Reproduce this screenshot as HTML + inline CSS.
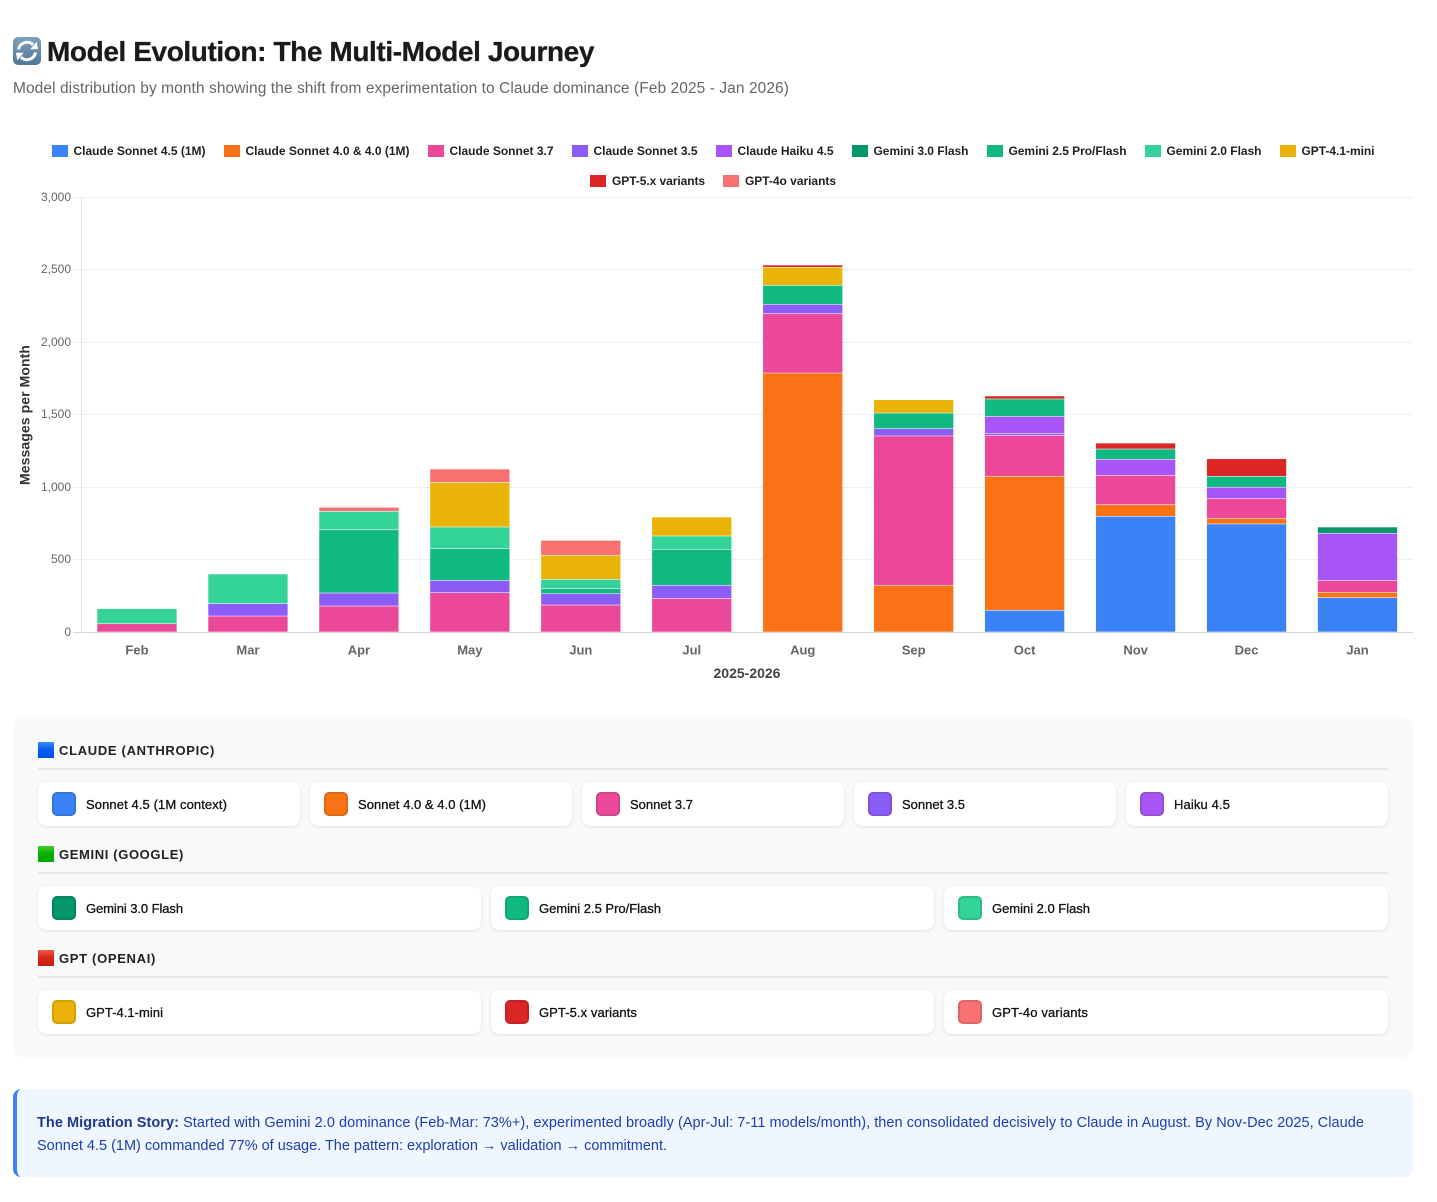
<!DOCTYPE html>
<html lang="en">
<head>
<meta charset="utf-8">
<title>Model Evolution: The Multi-Model Journey</title>
<style>
*{box-sizing:border-box}
html,body{margin:0;padding:0;background:#fff}
body{position:relative;width:1437px;height:1202px;overflow:hidden;font-family:"Liberation Sans",sans-serif;color:#1a1a1a}
.fit{display:inline-block;white-space:nowrap}
#title{position:absolute;left:47px;top:35px;font-size:28px;line-height:34px;font-weight:700;margin:0;color:#1a1a1a;-webkit-text-stroke:.3px #1a1a1a}
#title-icon{position:absolute;left:13px;top:37px}
#subtitle{position:absolute;left:13px;top:80px;font-size:15.5px;line-height:18px;color:#666;margin:0}
#chart{position:absolute;left:0;top:0}
.legend-row{position:absolute;left:13px;width:1400px;display:flex;justify-content:center;gap:18px;height:18px;align-items:center}
.legend-item{display:flex;align-items:center;gap:6px;font-size:12px;font-weight:700;color:#222;line-height:18px}
.legend-swatch{width:16px;height:12px;display:block}
#panel{position:absolute;left:13px;top:717px;width:1400px;height:341px;background:#f8f9fa;border-radius:12px}
.group-head{position:absolute;left:25px;width:1350px;height:28px;border-bottom:2px solid #e5e7eb}
.group-icon{position:absolute;left:0;top:0;width:16px;height:16px;display:block}
.group-title{position:absolute;left:21px;top:1px;font-size:13px;line-height:16px;font-weight:700;color:#222}
.cards{position:absolute;left:25px;width:1350px;height:44px;display:flex;gap:10px}
.card{flex:1 1 0;background:#fff;border-radius:8px;box-shadow:0 1px 3px rgba(0,0,0,.1);display:flex;align-items:center;padding-left:14px;gap:10px;font-size:13px;color:#111;-webkit-text-stroke:.3px #111}
.cards.three .card{flex:0 0 443px}
.cards.three .card:last-child{flex:0 0 444px}
.chip{width:24px;height:24px;border-radius:5px;border:2px solid rgba(0,0,0,.1);display:block;flex:none}
#callout{position:absolute;left:13px;top:1089px;width:1400px;height:88px;background:#eff6ff;border-left:4px solid #3b82f6;border-radius:8px;color:#1e40af;font-size:14.5px;line-height:23px}
#callout .line{position:absolute;left:20px}
#callout b{color:#1e3a8a}
</style>
</head>
<body>

<svg id="title-icon" width="28" height="28" viewBox="0 0 28 28">
  <defs><linearGradient id="ig" x1="0" y1="0" x2="0" y2="1"><stop offset="0" stop-color="#7f9fbd"/><stop offset="1" stop-color="#4f7899"/></linearGradient></defs>
  <rect x="0" y="0" width="28" height="28" rx="5" fill="url(#ig)"/>
  <path d="M5.5 12.5 A8.6 8.6 0 0 1 20 7.8" fill="none" stroke="#fff" stroke-width="3"/>
  <path d="M17.2 12.2 L25 12.2 L23.6 4.6 Z" fill="#fff"/>
  <path d="M22.5 15.5 A8.6 8.6 0 0 1 8 20.2" fill="none" stroke="#fff" stroke-width="3"/>
  <path d="M10.8 15.8 L3 15.8 L4.4 23.4 Z" fill="#fff"/>
</svg>
<h1 id="title"><span class="fit" data-fit="547">Model Evolution: The Multi-Model Journey</span></h1>
<p id="subtitle"><span class="fit" data-fit="776">Model distribution by month showing the shift from experimentation to Claude dominance (Feb 2025 - Jan 2026)</span></p>

<svg id="chart" width="1437" height="700" viewBox="0 0 1437 700"></svg>

<div class="legend-row" style="top:142px">
  <div class="legend-item"><i class="legend-swatch" style="background:#3b82f6"></i><span class="fit" data-fit="132">Claude Sonnet 4.5 (1M)</span></div>
  <div class="legend-item"><i class="legend-swatch" style="background:#f97316"></i><span class="fit" data-fit="164">Claude Sonnet 4.0 &amp; 4.0 (1M)</span></div>
  <div class="legend-item"><i class="legend-swatch" style="background:#ec4899"></i><span class="fit" data-fit="104">Claude Sonnet 3.7</span></div>
  <div class="legend-item"><i class="legend-swatch" style="background:#8b5cf6"></i><span class="fit" data-fit="104">Claude Sonnet 3.5</span></div>
  <div class="legend-item"><i class="legend-swatch" style="background:#a855f7"></i><span class="fit" data-fit="96">Claude Haiku 4.5</span></div>
  <div class="legend-item"><i class="legend-swatch" style="background:#059669"></i><span class="fit" data-fit="95">Gemini 3.0 Flash</span></div>
  <div class="legend-item"><i class="legend-swatch" style="background:#10b981"></i><span class="fit" data-fit="118">Gemini 2.5 Pro/Flash</span></div>
  <div class="legend-item"><i class="legend-swatch" style="background:#34d399"></i><span class="fit" data-fit="95">Gemini 2.0 Flash</span></div>
  <div class="legend-item"><i class="legend-swatch" style="background:#eab308"></i><span class="fit" data-fit="73">GPT-4.1-mini</span></div>
</div>
<div class="legend-row" style="top:172px">
  <div class="legend-item"><i class="legend-swatch" style="background:#dc2626"></i><span class="fit" data-fit="93">GPT-5.x variants</span></div>
  <div class="legend-item"><i class="legend-swatch" style="background:#f87171"></i><span class="fit" data-fit="91">GPT-4o variants</span></div>
</div>

<section id="panel">
  <div class="group-head" style="top:25px">
    <i class="group-icon" style="background:linear-gradient(#3d8cf5,#0a5cf2 45%,#0050ee)"></i>
    <span class="group-title fit" data-fit="156">CLAUDE (ANTHROPIC)</span>
  </div>
  <div class="cards" style="top:65px">
    <div class="card"><i class="chip" style="background:#3b82f6"></i><span class="fit" data-fit="141">Sonnet 4.5 (1M context)</span></div>
    <div class="card"><i class="chip" style="background:#f97316"></i><span class="fit" data-fit="128">Sonnet 4.0 &amp; 4.0 (1M)</span></div>
    <div class="card"><i class="chip" style="background:#ec4899"></i><span class="fit" data-fit="63">Sonnet 3.7</span></div>
    <div class="card"><i class="chip" style="background:#8b5cf6"></i><span class="fit" data-fit="63">Sonnet 3.5</span></div>
    <div class="card"><i class="chip" style="background:#a855f7"></i><span class="fit" data-fit="56">Haiku 4.5</span></div>
  </div>
  <div class="group-head" style="top:129px">
    <i class="group-icon" style="background:linear-gradient(#45c935,#0cb000 45%,#00a800)"></i>
    <span class="group-title fit" data-fit="125">GEMINI (GOOGLE)</span>
  </div>
  <div class="cards three" style="top:169px">
    <div class="card"><i class="chip" style="background:#059669"></i><span class="fit" data-fit="97">Gemini 3.0 Flash</span></div>
    <div class="card"><i class="chip" style="background:#10b981"></i><span class="fit" data-fit="122">Gemini 2.5 Pro/Flash</span></div>
    <div class="card"><i class="chip" style="background:#34d399"></i><span class="fit" data-fit="98">Gemini 2.0 Flash</span></div>
  </div>
  <div class="group-head" style="top:233px">
    <i class="group-icon" style="background:linear-gradient(#ee5a48,#d8281a 45%,#cc1b0c)"></i>
    <span class="group-title fit" data-fit="97">GPT (OPENAI)</span>
  </div>
  <div class="cards three" style="top:273px">
    <div class="card"><i class="chip" style="background:#eab308"></i><span class="fit" data-fit="77">GPT-4.1-mini</span></div>
    <div class="card"><i class="chip" style="background:#dc2626"></i><span class="fit" data-fit="98">GPT-5.x variants</span></div>
    <div class="card"><i class="chip" style="background:#f87171"></i><span class="fit" data-fit="96">GPT-4o variants</span></div>
  </div>
</section>

<aside id="callout">
  <span class="line fit" style="top:23px" data-fit="1327"><b>The Migration Story:</b> Started with Gemini 2.0 dominance (Feb-Mar: 73%+), experimented broadly (Apr-Jul: 7-11 models/month), then consolidated decisively to Claude in August. By Nov-Dec 2025, Claude</span>
  <span class="line fit" style="top:46px" data-fit="630">Sonnet 4.5 (1M) commanded 77% of usage. The pattern: exploration → validation → commitment.</span>
</aside>

<script>
const months = ["Feb","Mar","Apr","May","Jun","Jul","Aug","Sep","Oct","Nov","Dec","Jan"];
const yTicks = [0,500,1000,1500,2000,2500,3000];
const seriesNames = ["sonnet-4-5","sonnet-4-0","sonnet-3-7","sonnet-3-5","haiku-4-5","gemini-3-0","gemini-2-5","gemini-2-0","gpt-4-1-mini","gpt-5-x","gpt-4o"];
const seriesColors = ["#3b82f6","#f97316","#ec4899","#8b5cf6","#a855f7","#059669","#10b981","#34d399","#eab308","#dc2626","#f87171"];
const sonnet45 = [0,0,0,0,0,0,0,0,150,798,745,237];
const sonnet40 = [0,0,0,0,0,0,1786,322,924,80,39,37];
const sonnet37 = [57,110,179,271,186,232,409,1030,282,203,135,82];
const sonnet35 = [0,85,90,85,78,90,65,50,14,0,0,0];
const haiku45 = [0,0,0,0,0,0,0,0,117,110,79,325];
const gemini30 = [0,0,0,0,0,0,0,0,0,0,0,43];
const gemini25 = [0,0,436,219,35,248,131,108,120,71,76,0];
const gemini20 = [104,205,127,149,64,92,0,0,0,0,0,0];
const gpt41mini = [0,0,0,308,166,131,124,92,0,0,0,0];
const gpt5x = [0,0,0,0,0,0,16,0,21,41,121,0];
const gpt4o = [0,0,28,92,103,0,0,0,0,0,0,0];

const seriesValues = [sonnet45,sonnet40,sonnet37,sonnet35,haiku45,gemini30,gemini25,gemini20,gpt41mini,gpt5x,gpt4o];
const plot = {left:81.5,right:1413,top:197,bottom:632,max:3000};
const NS = "http://www.w3.org/2000/svg";
const svg = document.getElementById("chart");
const band = (plot.right - plot.left) / months.length;
const xScale = i => plot.left + band * (i + 0.5);
const yScale = v => plot.bottom - (v / plot.max) * (plot.bottom - plot.top);
function make(tag, attrs, parent){
  const el = document.createElementNS(NS, tag);
  for (const k in attrs) el.setAttribute(k, attrs[k]);
  (parent || svg).appendChild(el);
  return el;
}
const fontFam = '"Liberation Sans",sans-serif';

yTicks.forEach(t => {
  const y = Math.floor(yScale(t)) + 0.5;
  const line = make("line",{x1:73,x2:plot.right,y1:y,y2:y,stroke:t===0?"#d6d6d8":"#efefef","stroke-width":1});
  
  
  const lab = make("text",{x:71,y:y+3.7,"text-anchor":"end","font-family":fontFam,"font-size":12,fill:"#666"});
  
  
  lab.textContent = t.toLocaleString("en-US");
});
const yAxisLine = make("line",{x1:81.5,x2:81.5,y1:plot.top,y2:plot.bottom+1,stroke:"#e4e4e6","stroke-width":1});



const barWidth = band * 0.72;
months.forEach((m, i) => {
  let running = 0;
  seriesValues.forEach((vals, s) => {
    const v = vals[i];
    if (!v) return;
    const y1 = yScale(running + v);
    const y0 = yScale(running);
    running += v;
    const rect = make("rect",{x:xScale(i)-barWidth/2+0.25,y:y1+0.25,width:barWidth-0.5,height:Math.max(y0-y1-0.5,0.5),fill:seriesColors[s],stroke:"rgba(255,255,255,.14)","stroke-width":0.5});
    
    
  });
  const lab = make("text",{x:xScale(i),y:654.5,"text-anchor":"middle","font-family":fontFam,"font-size":13,"font-weight":700,fill:"#666"});
  
  
  lab.textContent = m;
});

const xTitle = make("text",{x:747,y:678,"text-anchor":"middle","font-family":fontFam,"font-size":14,"font-weight":700,fill:"#444"});


xTitle.textContent = "2025-2026";
const yTitle = make("text",{transform:"translate(29.5,415) rotate(-90)","text-anchor":"middle","font-family":fontFam,"font-size":14,"font-weight":700,fill:"#333",textLength:140,lengthAdjust:"spacing"});


yTitle.textContent = "Messages per Month";

document.querySelectorAll(".fit").forEach(el => {
  const target = parseFloat(el.getAttribute("data-fit"));
  const w = el.getBoundingClientRect().width;
  const n = el.textContent.length;
  el.style.letterSpacing = ((target - w) / n).toFixed(4) + "px";
});
</script>
</body>
</html>
